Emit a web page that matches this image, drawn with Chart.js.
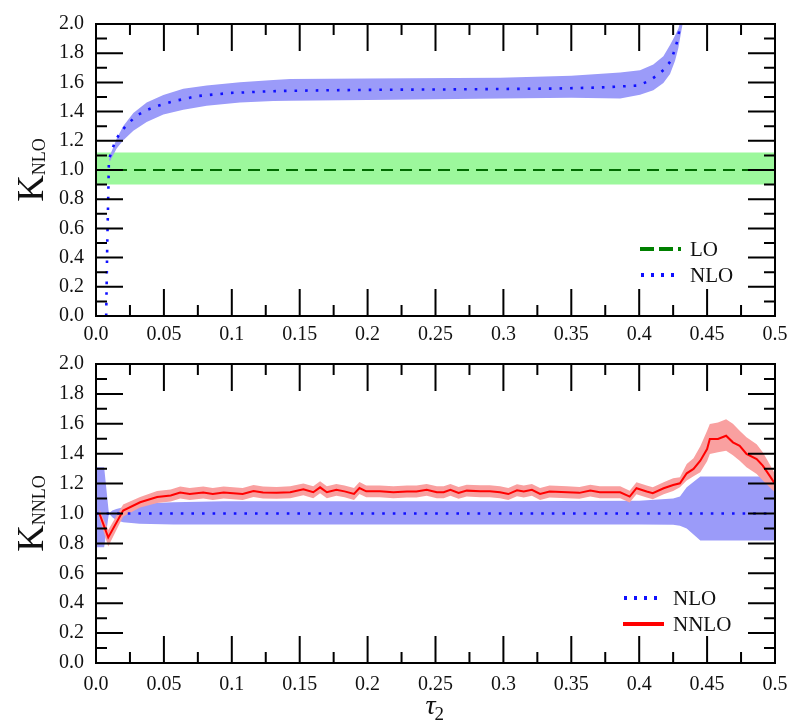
<!DOCTYPE html>
<html>
<head>
<meta charset="utf-8">
<script src="https://cdn.jsdelivr.net/npm/chart.js@4.4.1/dist/chart.umd.min.js"></script>
<style>
  body { margin: 0; background: #fff; }
  #top { position: absolute; left: 0; top: 0; }
  #bot { position: absolute; left: 0; top: 340px; }
</style>
</head>
<body>
<canvas id="top" width="807" height="340"></canvas>
<canvas id="bot" width="807" height="384"></canvas>
<script>
// ---- top panel: K_NLO ----
const loX = [0, 0.5];
const loY = [1.0, 1.0];
const loHi = [1.12, 1.12];
const loLo = [0.9, 0.9];

const nloX = [0.0075, 0.0083, 0.0091, 0.0095, 0.012, 0.0147, 0.0189, 0.0243, 0.03, 0.0366,
  0.044, 0.0515, 0.0589, 0.0668, 0.0741, 0.0822, 0.0906, 0.0982, 0.1065, 0.122,
  0.138, 0.18, 0.22, 0.26, 0.3, 0.34, 0.37, 0.386, 0.3993, 0.4067,
  0.4129, 0.419, 0.4234, 0.4259, 0.428, 0.4293, 0.4305];
const nloY = [0.0, 0.5, 0.86, 1.07, 1.143, 1.209, 1.269, 1.324, 1.373, 1.407,
  1.435, 1.457, 1.475, 1.49, 1.506, 1.513, 1.52, 1.528, 1.53, 1.537,
  1.542, 1.547, 1.55, 1.552, 1.555, 1.558, 1.565, 1.572, 1.579, 1.608,
  1.646, 1.694, 1.75, 1.816, 1.882, 1.945, 2.03];

const nloBandX = [0.0095, 0.0103, 0.0152, 0.0201, 0.0275, 0.0373, 0.0496, 0.0643, 0.0815, 0.106,
  0.1306, 0.143, 0.2, 0.2975, 0.35, 0.386, 0.4006, 0.4104, 0.4178, 0.4227,
  0.4264, 0.4288, 0.4313, 0.433];
const nloBandHi = [1.07, 1.10, 1.214, 1.302, 1.391, 1.462, 1.513, 1.557, 1.579, 1.601,
  1.617, 1.623, 1.627, 1.632, 1.645, 1.668, 1.683, 1.723, 1.779, 1.856,
  1.922, 1.967, 2.05, 2.1];
const nloBandLo = [1.07, 1.06, 1.147, 1.203, 1.269, 1.329, 1.38, 1.413, 1.44, 1.462,
  1.473, 1.475, 1.48, 1.49, 1.495, 1.49, 1.515, 1.546, 1.596, 1.657,
  1.748, 1.834, 1.967, 2.05];

// ---- bottom panel: K_NNLO ----
const refX = [0, 0.5];
const refY = [1.0, 1.0];

const refBandX = [0, 0.006, 0.0095, 0.012, 0.015, 0.02, 0.032, 0.057, 0.094, 0.2,
  0.3, 0.4, 0.425, 0.43, 0.435, 0.445, 0.5];
const refBandHi = [1.31, 1.31, 1.0, 1.02, 1.03, 1.042, 1.065, 1.075, 1.082, 1.082,
  1.082, 1.085, 1.10, 1.113, 1.176, 1.247, 1.247];
const refBandLo = [0.775, 0.775, 1.0, 0.975, 0.955, 0.942, 0.931, 0.927, 0.927, 0.927,
  0.927, 0.927, 0.925, 0.918, 0.9, 0.82, 0.82];

const nnloX = [0.0025, 0.009, 0.02, 0.0325, 0.045, 0.055, 0.062, 0.069, 0.079, 0.086,
  0.094, 0.101, 0.108, 0.116, 0.123, 0.133, 0.143, 0.1527, 0.16, 0.165,
  0.17, 0.177, 0.183, 0.19, 0.194, 0.199, 0.209, 0.219, 0.229, 0.236,
  0.2435, 0.251, 0.256, 0.261, 0.267, 0.273, 0.283, 0.29, 0.2975, 0.3036,
  0.31, 0.315, 0.321, 0.327, 0.334, 0.347, 0.356, 0.364, 0.371, 0.386,
  0.393, 0.398, 0.4055, 0.41, 0.418, 0.425, 0.43, 0.435, 0.44, 0.445,
  0.45, 0.452, 0.458, 0.464, 0.469, 0.474, 0.479, 0.4865, 0.491, 0.496, 0.5];
const nnloY = [1.00, 0.84, 1.02, 1.075, 1.11, 1.12, 1.14, 1.13, 1.14, 1.13,
  1.14, 1.135, 1.13, 1.15, 1.14, 1.138, 1.142, 1.162, 1.142, 1.175,
  1.142, 1.158, 1.148, 1.131, 1.17, 1.148, 1.148, 1.142, 1.147, 1.147,
  1.158, 1.142, 1.142, 1.158, 1.138, 1.153, 1.149, 1.149, 1.142, 1.13,
  1.155, 1.147, 1.158, 1.131, 1.147, 1.142, 1.138, 1.153, 1.142, 1.142,
  1.113, 1.169, 1.147, 1.136, 1.169, 1.191, 1.202, 1.269, 1.298, 1.353,
  1.431, 1.498, 1.498, 1.52, 1.476, 1.453, 1.398, 1.364, 1.32, 1.253, 1.198];
const nnloHi = [1.03, 0.89, 1.06, 1.11, 1.15, 1.16, 1.18, 1.17, 1.18, 1.17,
  1.18, 1.175, 1.17, 1.19, 1.18, 1.178, 1.182, 1.2, 1.182, 1.215,
  1.182, 1.198, 1.188, 1.171, 1.21, 1.188, 1.188, 1.182, 1.187, 1.187,
  1.198, 1.182, 1.182, 1.198, 1.178, 1.193, 1.189, 1.189, 1.182, 1.17,
  1.195, 1.187, 1.198, 1.171, 1.187, 1.182, 1.178, 1.193, 1.182, 1.182,
  1.153, 1.209, 1.187, 1.176, 1.209, 1.235, 1.242, 1.331, 1.37, 1.45,
  1.553, 1.598, 1.609, 1.631, 1.6, 1.553, 1.51, 1.464, 1.41, 1.331, 1.264];
const nnloLo = [0.97, 0.78, 0.98, 1.04, 1.07, 1.08, 1.1, 1.09, 1.1, 1.09,
  1.1, 1.095, 1.09, 1.11, 1.1, 1.098, 1.102, 1.122, 1.102, 1.135,
  1.102, 1.118, 1.108, 1.091, 1.13, 1.108, 1.108, 1.102, 1.107, 1.107,
  1.118, 1.102, 1.102, 1.118, 1.098, 1.113, 1.109, 1.109, 1.102, 1.09,
  1.115, 1.107, 1.118, 1.091, 1.107, 1.102, 1.098, 1.113, 1.102, 1.102,
  1.073, 1.129, 1.107, 1.096, 1.129, 1.15, 1.176, 1.22, 1.25, 1.276,
  1.35, 1.398, 1.409, 1.42, 1.39, 1.353, 1.31, 1.264, 1.22, 1.176, 1.142];

const FONT = "'Liberation Serif', 'DejaVu Serif', serif";
Chart.defaults.font.family = FONT;
Chart.defaults.font.size = 20;
Chart.defaults.color = "#111";

const pts = (xs, ys) => xs.map((x, i) => ({ x: x, y: ys[i] }));

function band(xs, ys, color, target, order) {
  return {
    data: pts(xs, ys), borderWidth: 0, borderColor: "rgba(0,0,0,0)",
    pointRadius: 0, fill: target === null ? false : { target: target, above: color, below: color },
    backgroundColor: color, order: order, tension: 0
  };
}
function line(xs, ys, color, width, dash, order) {
  return {
    data: pts(xs, ys), borderColor: color, borderWidth: width, borderDash: dash,
    pointRadius: 0, fill: false, order: order, tension: 0, borderCapStyle: "butt"
  };
}

// inward ticks on all four sides + box
const frame = {
  id: "frame",
  afterDatasetsDraw(chart) {
    const { ctx, chartArea: a, scales } = chart;
    const x = scales.x, y = scales.y;
    ctx.save();
    ctx.strokeStyle = "#000";
    ctx.lineWidth = 2;
    ctx.beginPath();
    for (let i = 0; i <= 20; i++) {
      const px = x.getPixelForValue(i * 0.025);
      const len = i % 2 ? 11 : 27;
      ctx.moveTo(px, a.bottom); ctx.lineTo(px, a.bottom - len);
      ctx.moveTo(px, a.top); ctx.lineTo(px, a.top + len);
    }
    for (let i = 0; i <= 20; i++) {
      const py = y.getPixelForValue(i * 0.1);
      const len = i % 2 ? 11 : 27;
      ctx.moveTo(a.left, py); ctx.lineTo(a.left + len, py);
      ctx.moveTo(a.right, py); ctx.lineTo(a.right - len, py);
    }
    ctx.stroke();
    ctx.strokeRect(a.left, a.top, a.right - a.left, a.bottom - a.top);
    ctx.restore();
  }
};

// axis titles with subscripts and the inset legend
const texts = {
  id: "texts",
  afterDraw(chart, args, opts) {
    const { ctx, chartArea: a } = chart;
    ctx.save();
    ctx.fillStyle = "#111";
    ctx.textBaseline = "alphabetic";
    // y title K_sub
    const cy = (a.top + a.bottom) / 2;
    ctx.translate(43, cy);
    ctx.rotate(-Math.PI / 2);
    ctx.font = "37px " + FONT;
    const wK = ctx.measureText("K").width;
    ctx.font = "18px " + FONT;
    const wS = ctx.measureText(opts.ysub).width;
    const x0 = -(wK + wS) / 2;
    ctx.font = "37px " + FONT;
    ctx.fillText("K", x0, 0);
    ctx.font = "18px " + FONT;
    ctx.fillText(opts.ysub, x0 + wK, 2);
    ctx.restore();

    // x title
    if (opts.xtitle) {
      ctx.save();
      ctx.fillStyle = "#111";
      ctx.textBaseline = "alphabetic";
      const cx = (a.left + a.right) / 2;
      ctx.font = "italic 28px " + FONT;
      const wt = ctx.measureText("\u03c4").width;
      ctx.fillText("\u03c4", cx - 10, opts.xtitle);
      ctx.font = "19px " + FONT;
      ctx.fillText("2", cx - 10 + wt - 1, opts.xtitle + 6);
      ctx.restore();
    }

    // legend
    ctx.save();
    opts.legend.forEach(item => {
      ctx.beginPath();
      ctx.strokeStyle = item.color;
      ctx.lineWidth = item.width;
      ctx.setLineDash(item.dash);
      ctx.moveTo(item.x1, item.y);
      ctx.lineTo(item.x2, item.y);
      ctx.stroke();
      ctx.setLineDash([]);
      ctx.fillStyle = "#111";
      ctx.font = "21px " + FONT;
      ctx.textBaseline = "middle";
      ctx.fillText(item.label, item.tx, item.y + 1);
    });
    ctx.restore();
  }
};

function axes(xHeight, xPad) {
  return {
    x: {
      type: "linear", min: 0, max: 0.5,
      grid: { display: false, drawTicks: false },
      border: { display: false },
      ticks: {
        stepSize: 0.05, autoSkip: false, maxRotation: 0, padding: xPad,
        callback: v => (v === 0 ? "0.0" : String(+v.toFixed(3)))
      },
      afterFit: s => { s.height = xHeight; }
    },
    y: {
      type: "linear", min: 0, max: 2,
      grid: { display: false, drawTicks: false },
      border: { display: false },
      ticks: { stepSize: 0.2, padding: 12, callback: v => v.toFixed(1) },
      afterFit: s => { s.width = 96; }
    }
  };
}

const BLUE_BAND = "#9b9bf9";
const RED_BAND = "#f9a0a0";
const GREEN_BAND = "#9cf89c";

new Chart(document.getElementById("top"), {
  type: "line",
  data: {
    datasets: [
      line(nloX, nloY, "#1010ff", 2.6, [2.6, 8], 0),
      line(loX, loY, "#006b00", 2, [12, 7], 1),
      band(nloBandX, nloBandHi, BLUE_BAND, 3, 5),
      band(nloBandX, nloBandLo, BLUE_BAND, null, 6),
      band(loX, loHi, GREEN_BAND, 5, 7),
      band(loX, loLo, GREEN_BAND, null, 8)
    ]
  },
  options: {
    responsive: false, animation: false,
    layout: { padding: { top: 15, right: 32, left: 0, bottom: 0 } },
    plugins: {
      legend: { display: false }, tooltip: { enabled: false },
      texts: {
        ysub: "NLO", xtitle: null,
        legend: [
          { label: "LO", color: "#008000", width: 4, dash: [14, 5], x1: 640, x2: 681, y: 249, tx: 690 },
          { label: "NLO", color: "#1010ff", width: 4, dash: [3, 7], x1: 641, x2: 678, y: 275, tx: 690 }
        ]
      }
    },
    scales: axes(24, 7)
  },
  plugins: [frame, texts]
});

new Chart(document.getElementById("bot"), {
  type: "line",
  data: {
    datasets: [
      line(nnloX, nnloY, "#ff0000", 2, [], 0),
      line(refX, refY, "#1010ff", 2.6, [2.6, 8], 1),
      band(nnloX, nnloHi, RED_BAND, 3, 5),
      band(nnloX, nnloLo, RED_BAND, null, 6),
      band(refBandX, refBandHi, BLUE_BAND, 5, 7),
      band(refBandX, refBandLo, BLUE_BAND, null, 8)
    ]
  },
  options: {
    responsive: false, animation: false,
    layout: { padding: { top: 23, right: 32, left: 0, bottom: 0 } },
    plugins: {
      legend: { display: false }, tooltip: { enabled: false },
      texts: {
        ysub: "NNLO", xtitle: 374,
        legend: [
          { label: "NLO", color: "#1010ff", width: 4, dash: [3, 7], x1: 624, x2: 661, y: 258, tx: 673 },
          { label: "NNLO", color: "#ff0000", width: 4, dash: [], x1: 623, x2: 664, y: 284, tx: 673 }
        ]
      }
    },
    scales: axes(61, 10)
  },
  plugins: [frame, texts]
});
</script>
</body>
</html>
